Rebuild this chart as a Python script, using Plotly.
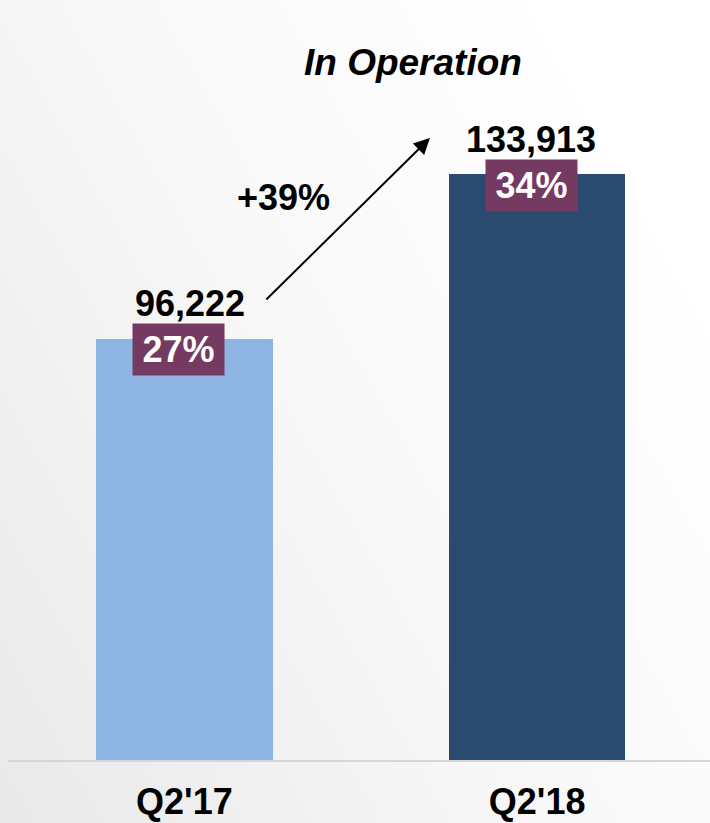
import base64
import plotly.graph_objects as go

# Data
periods = ["Q2'17", "Q2'18"]
in_operation = [96222, 133913]
share_labels = ["27%", "34%"]
bar_colors = ["#8EB4E3", "#2B4A6F"]

W, H = 710, 823
M_L, M_R, M_T, M_B = 8, 0, 0, 63
plot_w = W - M_L - M_R
plot_h = H - M_T - M_B
y_max = 173700
px_per_unit = plot_h / y_max

FONT = "Arial, Liberation Sans, sans-serif"
PURPLE = "#743A62"

growth = round((in_operation[1] / in_operation[0] - 1) * 100)

fig = go.Figure()
fig.add_trace(go.Bar(
    x=[0, 1], y=in_operation, width=0.5,
    marker=dict(color=bar_colors, line=dict(width=0)),
    hoverinfo="skip",
))

# value labels above bars, share boxes straddling the bar tops
value_dx = [6, -6]
box_dx = [-6, -6]
for i, (v, s) in enumerate(zip(in_operation, share_labels)):
    fig.add_annotation(
        x=i, y=v, xref="x", yref="y", showarrow=False,
        text=f"<b>{v:,}</b>", font=dict(family=FONT, size=36, color="black"),
        xanchor="center", yanchor="middle", yshift=35, xshift=value_dx[i],
    )
    fig.add_annotation(
        x=i, y=v, xref="x", yref="y", showarrow=False,
        text=f"<b>{s}</b>", font=dict(family=FONT, size=36, color="white"),
        bgcolor=PURPLE, width=91, height=51, borderpad=0,
        xanchor="center", yanchor="middle", yshift=-11, xshift=box_dx[i],
    )

# growth arrow between the two value labels
lift = 37 / px_per_unit
fig.add_annotation(
    x=0.696, y=in_operation[1] + lift - 1 / px_per_unit, xref="x", yref="y",
    ax=0.228, ay=in_operation[0] + lift + 1 / px_per_unit, axref="x", ayref="y",
    showarrow=True, arrowhead=2, arrowsize=1.6, arrowwidth=2, arrowcolor="black",
    text="",
)
fig.add_annotation(
    x=0.28, y=(in_operation[0] + in_operation[1]) / 2 + lift + 22 / px_per_unit,
    xref="x", yref="y", showarrow=False,
    text=f"<b>+{growth}%</b>", font=dict(family=FONT, size=36, color="black"),
    xanchor="center", yanchor="middle",
)

# chart title
fig.add_annotation(
    x=(413 - M_L) / plot_w, y=1 - (62 - M_T) / plot_h, xref="paper", yref="paper",
    showarrow=False,
    text="<b><i>In Operation</i></b>", font=dict(family=FONT, size=37, color="black"),
    xanchor="center", yanchor="middle",
)

# soft grey background gradient
svg = (
    f'<svg xmlns="http://www.w3.org/2000/svg" width="{W}" height="{H}">'
    '<defs><linearGradient id="g" x1="0" y1="1" x2="1" y2="0.35">'
    '<stop offset="0" stop-color="#e9e9e9"/>'
    '<stop offset="0.55" stop-color="#f8f8f8"/>'
    '<stop offset="1" stop-color="#ffffff"/>'
    '</linearGradient></defs>'
    f'<rect width="{W}" height="{H}" fill="url(#g)"/></svg>'
)
bg_src = "data:image/svg+xml;base64," + base64.b64encode(svg.encode()).decode()
fig.add_layout_image(
    source=bg_src, xref="paper", yref="paper",
    x=-M_L / plot_w, y=1 + M_T / plot_h, sizex=W / plot_w, sizey=H / plot_h,
    xanchor="left", yanchor="top", sizing="stretch", layer="below",
)

fig.update_layout(
    width=W, height=H,
    margin=dict(l=M_L, r=M_R, t=M_T, b=M_B, pad=0, autoexpand=False),
    paper_bgcolor="#f4f4f4", plot_bgcolor="rgba(0,0,0,0)",
    showlegend=False, bargap=0,
    xaxis=dict(
        range=[-0.5, 1.49], tickmode="array", tickvals=[0, 1],
        ticktext=[f"<b>{p}</b>" for p in periods],
        tickfont=dict(family=FONT, size=36, color="black"),
        showgrid=False, zeroline=False, ticks="",
        showline=True, linecolor="#d6d6d6", linewidth=2,
        ticklabelstandoff=9, fixedrange=True, automargin=False,
    ),
    yaxis=dict(range=[0, y_max], visible=False, showgrid=False, zeroline=False,
               fixedrange=True, automargin=False),
)

fig.write_html("out.html", config={"displayModeBar": False})
